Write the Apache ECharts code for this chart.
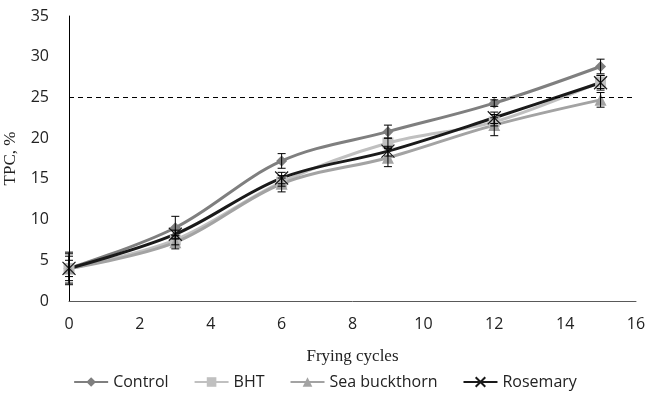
<!DOCTYPE html>
<html>
<head>
<meta charset="utf-8">
<script src="https://cdn.jsdelivr.net/npm/echarts@6/dist/echarts.min.js"></script>
<style>
  html, body { margin: 0; padding: 0; background: #fff; }
  #chartContainer { width: 650px; height: 397px; }
</style>
</head>
<body>
<div id="chartContainer"></div>
<script>
// frying cycles
const cycles = [0, 3, 6, 9, 12, 15];

// TPC, % per treatment
const control = [4.0, 9.0, 17.2, 20.8, 24.3, 28.8];
const bht = [4.0, 7.5, 14.6, 19.4, 22.0, 26.9];
const seaBuckthorn = [4.0, 7.2, 14.4, 17.6, 21.6, 24.7];
const rosemary = [4.0, 8.2, 15.1, 18.4, 22.5, 26.8];

// standard deviations (error bars)
const controlErr = [2.0, 1.4, 0.9, 0.8, 0.4, 0.9];
const bhtErr = [1.5, 0.6, 0.5, 0.6, 0.5, 0.8];
const seaBuckthornErr = [1.0, 0.8, 1.0, 1.1, 1.3, 0.9];
const rosemaryErr = [1.8, 0.5, 0.7, 0.6, 0.7, 0.9];

const tpcLimit = 25;

function lineSeries(name, values, color, symbol, symbolSize, width) {
    return {
        name: name,
        type: 'line',
        data: cycles.map((c, i) => [c, values[i]]),
        smooth: 0.35,
        symbol: symbol,
        symbolSize: symbolSize,
        showAllSymbol: true,
        lineStyle: { color: color, width: width },
        itemStyle: { color: color, borderWidth: 0 },
        z: 3
    };
}

function errorSeries(values, errs) {
    return {
        type: 'custom',
        silent: true,
        z: 4,
        data: cycles.map((c, i) => [c, values[i] - errs[i], values[i] + errs[i]]),
        renderItem: function (params, api) {
            const lo = api.coord([api.value(0), api.value(1)]);
            const hi = api.coord([api.value(0), api.value(2)]);
            const half = 4;
            const style = { stroke: '#000', lineWidth: 1 };
            return {
                type: 'group',
                children: [
                    { type: 'line', shape: { x1: lo[0], y1: lo[1], x2: hi[0], y2: hi[1] }, style: style },
                    { type: 'line', shape: { x1: lo[0] - half, y1: lo[1], x2: lo[0] + half, y2: lo[1] }, style: style },
                    { type: 'line', shape: { x1: hi[0] - half, y1: hi[1], x2: hi[0] + half, y2: hi[1] }, style: style }
                ]
            };
        }
    };
}

const crossPath = 'path://M0,0 L10,10 M10,0 L0,10';

const controlLine = lineSeries('Control', control, '#7f7f7f', 'diamond', 11, 3);
controlLine.markLine = {
    silent: true,
    symbol: 'none',
    label: { show: false },
    lineStyle: { color: '#000', type: [5, 4], width: 1 },
    data: [{ yAxis: tpcLimit }]
};

const rosemaryLine = lineSeries('Rosemary', rosemary, '#1a1a1a', crossPath, 13, 3);
rosemaryLine.itemStyle = { color: 'none', borderColor: '#1a1a1a', borderWidth: 1.2 };

const myChart = echarts.init(document.getElementById('chartContainer'));
const option = {
    animation: false,
    textStyle: { fontFamily: 'Open Sans, Liberation Sans, sans-serif' },
    grid: { left: 69, right: 14, top: 16, bottom: 96, outerBoundsMode: 'none', containLabel: false },
    legend: {
        bottom: 2,
        left: 'center',
        itemGap: 25,
        itemWidth: 34,
        itemHeight: 12,
        textStyle: { fontSize: 16, color: '#222', fontFamily: 'Open Sans, Liberation Sans, sans-serif' },
        data: ['Control', 'BHT', 'Sea buckthorn', 'Rosemary']
    },
    xAxis: {
        type: 'value',
        min: 0,
        max: 16,
        interval: 2,
        name: 'Frying cycles',
        nameLocation: 'middle',
        nameGap: 47,
        nameTextStyle: { fontFamily: 'Liberation Serif, serif', fontSize: 17, color: '#222' },
        axisLine: { lineStyle: { color: '#595959', width: 1 } },
        axisTick: { show: false },
        splitLine: { show: false },
        axisLabel: { fontSize: 16, color: '#222', margin: 15 }
    },
    yAxis: {
        type: 'value',
        min: 0,
        max: 35,
        interval: 5,
        name: 'TPC, %',
        nameLocation: 'middle',
        nameGap: 50,
        nameTextStyle: { fontFamily: 'Liberation Serif, serif', fontSize: 17, color: '#222' },
        axisLine: { show: true, lineStyle: { color: '#000', width: 1 } },
        axisTick: { show: false },
        splitLine: { show: false },
        axisLabel: { fontSize: 16, color: '#222', margin: 20 }
    },
    series: [
        controlLine,
        lineSeries('BHT', bht, '#c0c0c0', 'rect', 11, 3),
        lineSeries('Sea buckthorn', seaBuckthorn, '#a3a3a3', 'triangle', 12, 3),
        rosemaryLine,
        errorSeries(control, controlErr),
        errorSeries(bht, bhtErr),
        errorSeries(seaBuckthorn, seaBuckthornErr),
        errorSeries(rosemary, rosemaryErr)
    ]
};
myChart.setOption(option);
</script>
</body>
</html>
